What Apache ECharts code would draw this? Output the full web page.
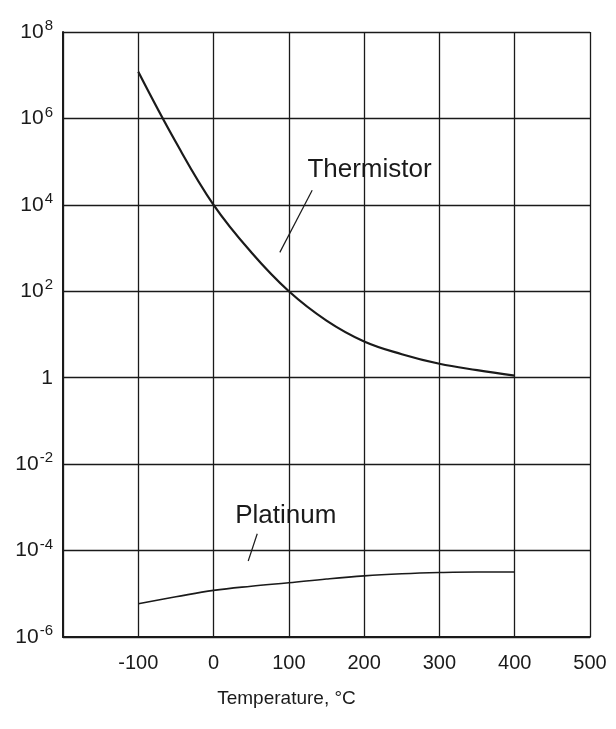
<!DOCTYPE html>
<html>
<head>
<meta charset="utf-8">
<script src="https://cdn.jsdelivr.net/npm/echarts@6/dist/echarts.min.js"></script>
<style>
  html, body { margin: 0; padding: 0; background: #fff; }
  #chart { width: 616px; height: 729px; }
</style>
</head>
<body>
<div id="chart"></div>
<script>
// temperature, deg C
const temps = [-100, -50, 0, 50, 100, 150, 200, 250, 300, 350, 400];
// resistance ratio
const thermistor = [1.2e7, 2.8e5, 1.0e4, 8.0e2, 1.0e2, 2.1e1, 6.9, 3.5, 2.1, 1.5, 1.12];
const platinum = [5.9e-6, 8.5e-6, 1.2e-5, 1.5e-5, 1.8e-5, 2.2e-5, 2.6e-5, 2.9e-5, 3.1e-5, 3.2e-5, 3.2e-5];
const xTicks = [-100, 0, 100, 200, 300, 400, 500];

const chart = echarts.init(document.getElementById("chart"));

const font = "Liberation Sans";
const ink = "#1a1a1a";

function yLabel(v) {
  const e = Math.round(Math.log10(v));
  if (e === 0) return "{b|1}";
  return "{b|10}{s|" + (e < 0 ? "-" + Math.abs(e) : e) + "}";
}

chart.setOption({
  backgroundColor: "#fff",
  animation: false,
  grid: { left: 63, right: 26, top: 32, bottom: 92 },
  xAxis: {
    type: "value",
    min: -200,
    max: 500,
    interval: 100,
    name: "Temperature, °C",
    nameLocation: "middle",
    nameGap: 52,
    nameTextStyle: { color: ink, fontSize: 19, fontFamily: font, padding: [0, 80, 0, 0] },
    axisLine: { show: true, lineStyle: { color: ink, width: 2 } },
    axisTick: { show: false },
    axisLabel: {
      color: ink,
      fontSize: 20,
      fontFamily: font,
      margin: 16,
      formatter: (v) => (xTicks.includes(v) ? String(v) : "")
    },
    splitLine: { show: true, lineStyle: { color: ink, width: 1.3 } }
  },
  yAxis: {
    type: "log",
    logBase: 10,
    min: 1e-6,
    max: 1e8,
    interval: 2,
    axisLine: { show: true, onZero: false, lineStyle: { color: ink, width: 2 } },
    axisTick: { show: false },
    axisLabel: {
      color: ink,
      margin: 10,
      formatter: yLabel,
      rich: {
        b: { fontSize: 21, fontFamily: font, color: ink },
        s: { fontSize: 15, fontFamily: font, color: ink, verticalAlign: "top", padding: [0, 0, 12, 1] }
      }
    },
    splitLine: { show: true, lineStyle: { color: ink, width: 1.3 } }
  },
  series: [
    {
      name: "Thermistor",
      type: "line",
      smooth: 0.4,
      showSymbol: false,
      lineStyle: { color: ink, width: 2.2 },
      data: temps.map((t, i) => [t, thermistor[i]]),
      markLine: {
        silent: true,
        symbol: ["none", "none"],
        lineStyle: { color: ink, width: 1.2, type: "solid" },
        label: { show: false },
        data: [[{ coord: [88, 10 ** 2.9] }, { coord: [131, 10 ** 4.34] }]]
      },
      markPoint: {
        silent: true,
        symbol: "circle",
        symbolSize: 0,
        label: { show: true, position: "right", color: ink, fontSize: 26, fontFamily: font, formatter: "Thermistor" },
        data: [{ coord: [118, 10 ** 4.8] }]
      }
    },
    {
      name: "Platinum",
      type: "line",
      smooth: 0.4,
      showSymbol: false,
      lineStyle: { color: ink, width: 1.6 },
      data: temps.map((t, i) => [t, platinum[i]]),
      markLine: {
        silent: true,
        symbol: ["none", "none"],
        lineStyle: { color: ink, width: 1.2, type: "solid" },
        label: { show: false },
        data: [[{ coord: [58, 10 ** -3.61] }, { coord: [46, 10 ** -4.24] }]]
      },
      markPoint: {
        silent: true,
        symbol: "circle",
        symbolSize: 0,
        label: { show: true, position: "right", color: ink, fontSize: 26, fontFamily: font, formatter: "Platinum" },
        data: [{ coord: [22, 10 ** -3.2] }]
      }
    }
  ]
});

window.addEventListener("resize", () => chart.resize());
</script>
</body>
</html>
